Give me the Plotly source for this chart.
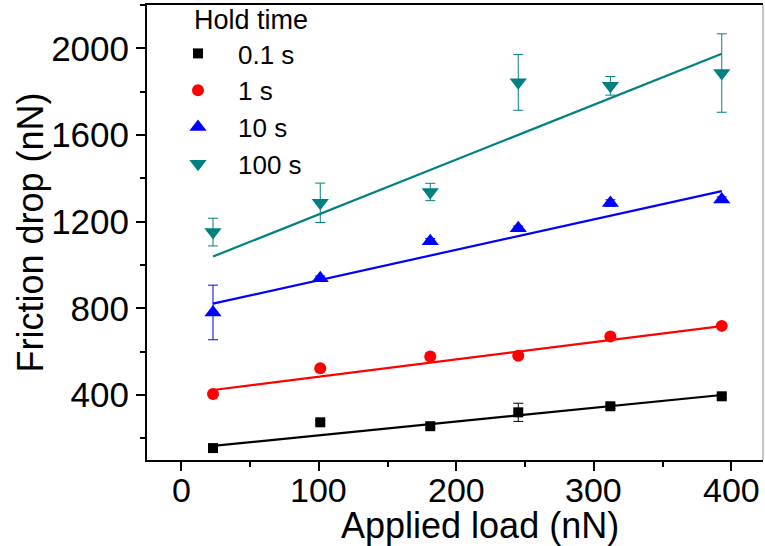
import plotly.graph_objects as go

# ---- data ----
load = [23, 101, 181, 245, 312, 393]

drop_01s = [155, 274, 256, 320, 348, 394]
err_01s = [8, 8, 8, 42, 10, 8]

drop_1s = [405, 523, 578, 581, 670, 719]
err_1s = [8, 8, 8, 8, 8, 8]

drop_10s = [781, 939, 1110, 1170, 1286, 1302]
err_10s = [126, 10, 12, 10, 15, 12]

drop_100s = [1152, 1287, 1337, 1843, 1827, 1886]
err_100s = [64, 91, 40, 129, 43, 181]

# linear-fit line end values (at first and last load)
fit_x = [load[0], load[-1]]
fit_01s = [165, 400]
fit_1s = [423, 718]
fit_10s = [822, 1341]
fit_100s = [1039, 1975]

x_ticks = [0, 100, 200, 300, 400]
x_tick_labels = ["0", "100", "200", "300", "400"]

names = ["0.1 s", "1 s", "10 s", "100 s"]
colors = ["#000000", "#FF0000", "#0000FF", "#008080"]
symbols = ["square", "circle", "triangle-up", "triangle-down"]
sizes = [10, 12, 15, 15]

series = [drop_01s, drop_1s, drop_10s, drop_100s]
errors = [err_01s, err_1s, err_10s, err_100s]
fits = [fit_01s, fit_1s, fit_10s, fit_100s]

FONT = "Arial, Liberation Sans, sans-serif"

fig = go.Figure()
for nm, c, sym, sz, ys, es, fy in zip(names, colors, symbols, sizes, series, errors, fits):
    fig.add_trace(go.Scatter(
        x=fit_x, y=fy, mode="lines", line=dict(color=c, width=2.2),
        showlegend=False, hoverinfo="skip"))
    fig.add_trace(go.Scatter(
        x=load, y=ys, mode="markers", name=nm,
        marker=dict(symbol=sym, size=sz, color=c, line=dict(width=0)),
        error_y=dict(type="data", array=es, visible=True, color=c,
                     thickness=1, width=5)))

axis_common = dict(
    showgrid=False, zeroline=False, showline=True, linecolor="black",
    linewidth=2, ticks="outside", ticklen=9, tickwidth=2, tickcolor="black",
    tickfont=dict(family=FONT, size=35, color="black"),
)

fig.update_xaxes(
    range=[-25, 423], tickvals=x_ticks, showticklabels=False, mirror=True,
    minor=dict(dtick=50, ticks="outside", ticklen=5, tickwidth=2, tickcolor="black"),
    **axis_common)
fig.update_yaxes(
    range=[100, 2200], tick0=0, dtick=400, mirror=False,
    minor=dict(dtick=200, ticks="outside", ticklen=5, tickwidth=2, tickcolor="black"),
    **axis_common)

for tv, tl in zip(x_ticks, x_tick_labels):
    fig.add_annotation(text=tl, x=tv, xref="x", yref="paper",
                       y=-(490 - 460) / 455, xanchor="center", yanchor="middle",
                       showarrow=False,
                       font=dict(family=FONT, size=34, color="black"))

fig.add_shape(type="line", xref="paper", yref="paper", x0=1, x1=1, y0=0, y1=1,
              line=dict(color="#888888", width=1))

fig.add_annotation(text="Applied load (nN)", xref="paper", yref="paper",
                   x=(480 - 147) / 616, y=-(525 - 460) / 455,
                   xanchor="center", yanchor="middle", showarrow=False,
                   font=dict(family=FONT, size=36, color="black"))
fig.add_annotation(text="Friction drop (nN)", xref="paper", yref="paper",
                   x=-(147 - 30) / 616, y=0.5, textangle=-90,
                   xanchor="center", yanchor="middle", showarrow=False,
                   font=dict(family=FONT, size=36, color="black"))
fig.add_annotation(text="Hold time", xref="paper", yref="paper",
                   x=(192 - 147) / 616, y=1 - (20 - 5) / 455,
                   xanchor="left", yanchor="middle", showarrow=False,
                   font=dict(family=FONT, size=27, color="black"))

fig.update_layout(
    width=765, height=546,
    margin=dict(l=147, r=2, t=5, b=86),
    paper_bgcolor="white", plot_bgcolor="white",
    showlegend=True,
    legend=dict(
        x=(158 - 147) / 616, y=1 - (30 - 5) / 455, xanchor="left", yanchor="top",
        bgcolor="rgba(0,0,0,0)", borderwidth=0, itemwidth=70,
        font=dict(family=FONT, size=26, color="black"),
        tracegroupgap=0,
    ),
)

fig.write_html("out.html")
